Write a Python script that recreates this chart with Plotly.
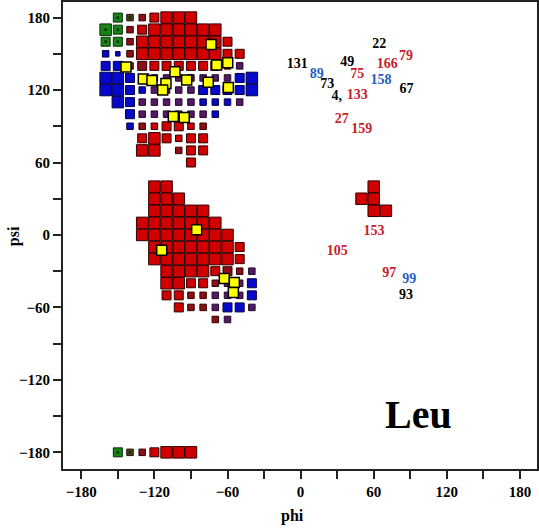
import plotly.graph_objects as go

# ---- density grid cells: per psi row, (phi, class, level) ----
# class: R red, D dark red, P purple, B blue, G green, N brown ; level 1 (smallest) .. 4 (largest)
grid_rows = [
    (180, [(-150, "G", 3), (-140, "N", 2), (-130, "D", 2), (-120, "R", 3), (-110, "R", 4), (-100, "R", 4), (-90, "R", 4)]),
    (170, [(-160, "G", 4), (-150, "G", 3), (-140, "D", 2), (-130, "R", 3), (-120, "R", 4), (-110, "R", 4), (-100, "R", 4),
           (-90, "R", 4), (-80, "R", 4), (-70, "R", 4)]),
    (160, [(-160, "G", 3), (-150, "G", 3), (-140, "D", 2), (-130, "R", 4), (-120, "R", 4), (-110, "R", 4), (-100, "R", 4),
           (-90, "R", 4), (-80, "R", 4), (-70, "R", 4), (-60, "R", 3)]),
    (150, [(-160, "B", 2), (-150, "B", 1), (-140, "D", 2), (-130, "R", 4), (-120, "R", 4), (-110, "R", 4), (-100, "R", 4),
           (-90, "R", 4), (-80, "R", 4), (-70, "R", 4), (-60, "R", 3), (-50, "R", 3)]),
    (140, [(-160, "B", 3), (-150, "B", 3), (-140, "D", 2), (-130, "D", 3), (-120, "R", 3), (-110, "R", 3), (-100, "R", 3),
           (-90, "R", 3), (-80, "R", 3), (-70, "R", 3), (-60, "D", 2), (-50, "P", 2)]),
    (130, [(-160, "B", 4), (-150, "B", 4), (-140, "B", 3), (-130, "P", 2), (-120, "P", 2), (-110, "P", 2), (-100, "P", 2),
           (-90, "P", 2), (-80, "P", 2), (-70, "P", 2), (-60, "P", 2), (-50, "B", 3), (-40, "B", 4)]),
    (120, [(-160, "B", 4), (-150, "B", 4), (-140, "B", 3), (-130, "B", 2), (-120, "P", 2), (-110, "P", 2), (-100, "P", 2),
           (-90, "P", 2), (-80, "B", 3), (-70, "B", 3), (-60, "B", 3), (-50, "B", 3), (-40, "B", 4)]),
    (110, [(-150, "B", 4), (-140, "B", 3), (-130, "P", 2), (-120, "P", 2), (-110, "P", 2), (-100, "P", 2), (-90, "P", 2),
           (-80, "B", 2), (-70, "B", 2), (-60, "B", 2), (-50, "P", 2)]),
    (100, [(-140, "B", 3), (-130, "P", 2), (-120, "P", 2), (-110, "P", 2), (-100, "P", 2), (-90, "P", 2), (-80, "P", 2),
           (-70, "B", 2)]),
    (90, [(-140, "B", 2), (-130, "D", 2), (-120, "R", 2), (-110, "R", 3), (-100, "R", 3), (-90, "R", 2), (-80, "D", 2)]),
    (80, [(-130, "R", 3), (-120, "R", 4), (-110, "R", 3), (-100, "R", 2), (-90, "R", 3), (-80, "R", 3)]),
    (70, [(-130, "R", 4), (-120, "R", 4), (-100, "D", 2), (-90, "R", 3), (-80, "R", 3)]),
    (60, [(-90, "R", 3)]),
    (40, [(-120, "R", 4), (-110, "R", 4), (60, "R", 4)]),
    (30, [(-120, "R", 4), (-110, "R", 4), (-100, "R", 4), (50, "R", 4), (60, "R", 4)]),
    (20, [(-120, "R", 4), (-110, "R", 4), (-100, "R", 4), (-90, "R", 4), (-80, "R", 4), (60, "R", 4), (70, "R", 4)]),
    (10, [(-130, "R", 4), (-120, "R", 4), (-110, "R", 4), (-100, "R", 4), (-90, "R", 4), (-80, "R", 4), (-70, "R", 4)]),
    (0, [(-130, "R", 4), (-120, "R", 4), (-110, "R", 4), (-100, "R", 4), (-90, "R", 4), (-80, "R", 4), (-70, "R", 4),
         (-60, "R", 4)]),
    (-10, [(-120, "R", 4), (-110, "R", 4), (-100, "R", 4), (-90, "R", 4), (-80, "R", 4), (-70, "R", 4), (-60, "R", 4),
           (-50, "R", 3)]),
    (-20, [(-120, "R", 4), (-110, "R", 4), (-100, "R", 4), (-90, "R", 4), (-80, "R", 4), (-70, "R", 4), (-60, "R", 4),
           (-50, "R", 3)]),
    (-30, [(-110, "R", 4), (-100, "R", 4), (-90, "R", 4), (-80, "R", 4), (-70, "R", 3), (-60, "D", 3), (-50, "D", 2),
           (-40, "P", 2)]),
    (-40, [(-110, "R", 4), (-100, "R", 4), (-90, "R", 3), (-80, "R", 3), (-70, "D", 2), (-60, "P", 2), (-50, "P", 2),
           (-40, "B", 3)]),
    (-50, [(-110, "R", 3), (-100, "R", 3), (-90, "D", 2), (-80, "D", 2), (-70, "P", 2), (-60, "P", 2), (-50, "P", 2),
           (-40, "B", 3)]),
    (-60, [(-100, "R", 3), (-90, "D", 2), (-80, "D", 2), (-70, "P", 2), (-60, "B", 3), (-50, "B", 3), (-40, "P", 2)]),
    (-70, [(-70, "D", 2), (-60, "P", 2)]),
    (-180, [(-150, "G", 3), (-140, "N", 2), (-130, "D", 2), (-120, "R", 3), (-110, "R", 4), (-100, "R", 4), (-90, "R", 4)]),
]

cell_phi, cell_psi, cell_cls, cell_lvl = [], [], [], []
for psi_row, cells in grid_rows:
    for ph, c, lv in cells:
        cell_phi.append(ph)
        cell_psi.append(psi_row)
        cell_cls.append(c)
        cell_lvl.append(lv)

# ---- individual residues (yellow squares) ----
res_phi = [-73.5, -143.3, -68.9, -59.8, -103.1, -129.1, -122.0, -110.5, -93.5, -75.8, -113.2, -59.3, -104.5, -95.5,
           -85.3, -114.0, -62.6, -54.4, -55.2]
res_psi = [157.7, 139.1, 140.7, 142.6, 135.2, 129.2, 127.8, 125.5, 128.3, 126.4, 120.1, 122.0, 98.1, 97.3,
           4.3, -12.7, -36.1, -39.4, -47.6]

# ---- residue number labels ----
lab_text = ["22", "131", "49", "166", "79", "89", "75", "158", "73", "67", "4,", "133", "27", "159",
            "153", "105", "97", "99", "93"]
lab_phi = [64.6, -2.7, 38.3, 71.1, 86.5, 13.2, 46.5, 66.0, 21.9, 87.0, 29.6, 46.5, 33.7, 50.1,
           60.2, 30.1, 72.8, 89.2, 86.5]
lab_psi = [157.7, 141.2, 142.6, 141.2, 148.1, 132.5, 132.5, 127.5, 124.2, 120.1, 114.6, 115.4, 95.4, 87.1,
           2.7, -13.8, -31.6, -36.6, -50.3]
lab_col = ["k", "k", "k", "r", "r", "b", "r", "b", "k", "k", "k", "r", "r", "r",
           "r", "r", "r", "b", "k"]

# ---- styling ----
FILL = {"R": "#d00000", "D": "#8a0f16", "P": "#521a68", "B": "#0808cc", "G": "#178417", "N": "#4e3f16"}
EDGE = {"R": "#2e0000", "D": "#300000", "P": "#260826", "B": "#000040", "G": "#082e08", "N": "#1a1300"}
SIZE = {1: 4.5, 2: 6.5, 3: 9.0, 4: 11.5}
TXT = {"k": "#000000", "r": "#c8202c", "b": "#1f5fc4"}
FONT = "Liberation Serif"

fig = go.Figure()
fig.add_trace(go.Scatter(
    x=cell_phi, y=cell_psi, mode="markers", hoverinfo="skip", showlegend=False,
    marker=dict(symbol="square", size=[SIZE[l] for l in cell_lvl], opacity=1,
                color=[FILL[c] for c in cell_cls],
                line=dict(color=[EDGE[c] for c in cell_cls], width=1))))

g_phi = [p for p, c in zip(cell_phi, cell_cls) if c in ("G", "N")]
g_psi = [s for s, c in zip(cell_psi, cell_cls) if c in ("G", "N")]
fig.add_trace(go.Scatter(x=g_phi, y=g_psi, mode="markers", hoverinfo="skip", showlegend=False,
                         marker=dict(symbol="square", size=2.5, color="#0a2a0a", opacity=1)))

fig.add_trace(go.Scatter(
    x=res_phi, y=res_psi, mode="markers", hoverinfo="skip", showlegend=False,
    marker=dict(symbol="square", size=10, color="#ffff00", opacity=1, line=dict(color="#000000", width=1.5))))

fig.add_trace(go.Scatter(
    x=lab_phi, y=lab_psi, mode="text", text=lab_text, textposition="middle center",
    hoverinfo="skip", showlegend=False,
    textfont=dict(family=FONT, size=14, color=[TXT[c] for c in lab_col], weight="bold")))

fig.add_annotation(x=97, y=-148.5, xref="x", yref="y", text="Leu", showarrow=False,
                   font=dict(family=FONT, size=40, color="#000000", weight="bold"))
fig.add_annotation(x=0.485, y=-0.100, xref="paper", yref="paper", text="phi", showarrow=False,
                   xanchor="center", yanchor="middle",
                   font=dict(family=FONT, size=16, color="#000000", weight="bold"))
fig.add_annotation(x=-0.103, y=0.499, xref="paper", yref="paper", text="psi", showarrow=False,
                   textangle=-90, xanchor="center", yanchor="middle",
                   font=dict(family=FONT, size=16, color="#000000", weight="bold"))

axis_common = dict(
    tickmode="linear", tick0=0, dtick=60, ticks="outside", ticklen=8, tickwidth=1.5, tickcolor="#222222",
    showline=True, linewidth=2, linecolor="#222222", mirror=True, showgrid=False, zeroline=False,
    tickfont=dict(family=FONT, size=15, color="#000000", weight="bold"),
    minor=dict(tick0=0, dtick=30, ticks="outside", ticklen=8, tickwidth=1.5, tickcolor="#222222", showgrid=False),
)
fig.update_xaxes(range=[-195, 194], **axis_common)
fig.update_yaxes(range=[-193.8, 192.9], **axis_common)

fig.update_layout(
    width=539, height=529, margin=dict(l=63, r=2, t=0, b=60),
    plot_bgcolor="#ffffff", paper_bgcolor="#ffffff",
)

fig.write_html("out.html")
